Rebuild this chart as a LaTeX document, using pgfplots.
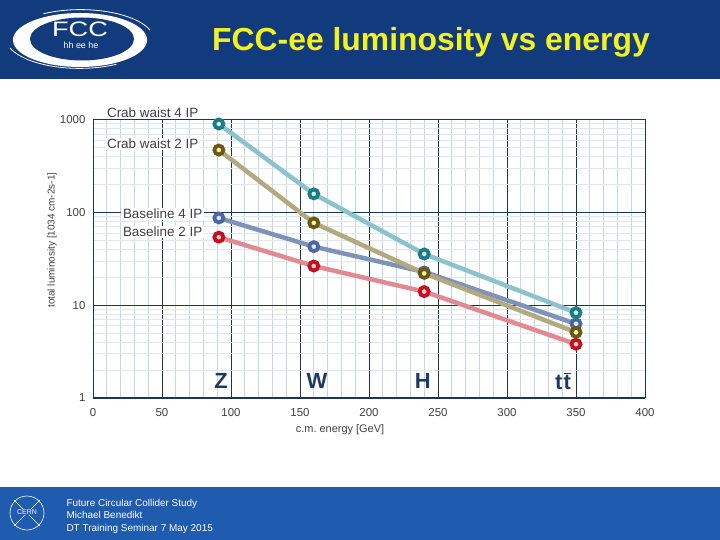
\documentclass[border=0pt]{standalone}
\usepackage{fontspec}
\setmainfont{Liberation Sans}
\usepackage{pgfplots}
\pgfplotsset{compat=1.18}
\definecolor{hdr}{HTML}{123B7D}
\definecolor{ftr}{HTML}{1F5BAE}
\definecolor{ttl}{HTML}{F2F21E}
\definecolor{gmaj}{HTML}{1C3550}
\definecolor{gmin}{HTML}{C6D6E6}
\definecolor{gminy}{HTML}{DFE8F1}
\definecolor{lab}{HTML}{404040}
\definecolor{navy}{HTML}{203864}
\definecolor{cfL}{HTML}{8CC2CB}
\definecolor{cfD}{HTML}{1B7B88}
\definecolor{cfC}{HTML}{D4F3F7}
\definecolor{ctL}{HTML}{B3A97E}
\definecolor{ctD}{HTML}{6B5814}
\definecolor{ctC}{HTML}{FFF7A8}
\definecolor{bfL}{HTML}{7F92BA}
\definecolor{bfD}{HTML}{4D66A3}
\definecolor{bfC}{HTML}{DCEBFA}
\definecolor{btL}{HTML}{E28A92}
\definecolor{btD}{HTML}{C1101E}
\definecolor{btC}{HTML}{FFD0D4}
\begin{document}
\begin{tikzpicture}
\useasboundingbox (0,0) rectangle (720bp,540bp);
\fill[white] (0,0) rectangle (720bp,540bp);
% header
\fill[hdr] (0,461bp) rectangle (720bp,540bp);
\fill[white] (80bp,500bp) ellipse [x radius=67bp, y radius=27bp];
\fill[hdr] (82bp,501bp) ellipse [x radius=52bp, y radius=21.5bp];
\draw[white, line width=0.8bp] (150bp,510bp) arc[start angle=20, end angle=120, x radius=74bp, y radius=31bp];
\draw[white, line width=0.8bp] (10bp,492bp) arc[start angle=200, end angle=300, x radius=74bp, y radius=31bp];
\node[white, font=\fontsize{21}{21}\selectfont, xscale=1.3, inner sep=0pt] at (80bp,510.5bp) {FCC};
\node[white, font=\fontsize{9}{9}\selectfont, inner sep=0pt] at (81bp,494.5bp) {hh ee he};
\node[ttl, font=\fontsize{32}{32}\bfseries\selectfont] at (431bp,498bp) {FCC-ee luminosity vs energy};
% footer
\fill[ftr] (0,0) rectangle (720bp,53bp);
\draw[white, line width=0.6bp] (27bp,27bp) circle (17bp);
\draw[white, line width=0.6bp] (14bp,40bp) -- (40bp,14bp);
\draw[white, line width=0.6bp] (14bp,14bp) -- (40bp,40bp);
\node[white, fill=ftr, inner sep=1bp, font=\fontsize{7}{7}\selectfont] at (27bp,28bp) {CERN};
\node[white, anchor=west, align=left, font=\fontsize{10}{12.5}\selectfont] at (63bp,24bp)
  {Future Circular Collider Study\\Michael Benedikt\\DT Training Seminar 7 May 2015};
% chart
\begin{axis}[
  at={(93bp,142bp)}, anchor=south west,
  scale only axis, width=552bp, height=278.5bp,
  xmin=0, xmax=400, ymin=1, ymax=1000, ymode=log,
  xtick={0,50,...,400}, minor x tick num=4,
  ytick={1,10,100,1000}, yticklabels={1,10,100,1000},
  minor ytick={2,3,4,5,6,7,8,9,20,30,40,50,60,70,80,90,200,300,400,500,600,700,800,900},
  grid=both,
  major grid style={gmaj, line width=0.8bp},
  minor x grid style={gmin, line width=0.7bp},
  minor y grid style={gminy, line width=0.7bp},
  axis line style={gmaj, line width=1bp},
  tick style={draw=none},
  /pgf/number format/assume math mode=true,
  ticklabel style={font=\fontsize{11.5}{13}\selectfont, text=lab},
  xticklabel style={yshift=-7bp},
  yticklabel style={xshift=-4bp},
  xlabel={c.m.\ energy [GeV]},
  xlabel style={at={(rel axis cs:0.4475,-0.115)}, anchor=center, font=\fontsize{11}{13}\selectfont, text=lab},
  ylabel={total luminosity [1034 cm-2s-1]},
  ylabel style={at={(rel axis cs:-0.0743,0.567)}, anchor=center, font=\fontsize{10}{12}\selectfont, text=lab},
  clip=false,
]
\addplot[line width=4.5bp, bfL, mark=*, mark size=4.5bp, mark options={draw=bfD, fill=bfC, line width=3.8bp}]
  coordinates {(91.2,87) (160,42.7) (240,22.8) (350,6.3)};
\addplot[line width=4.5bp, btL, mark=*, mark size=4.5bp, mark options={draw=btD, fill=btC, line width=3.8bp}]
  coordinates {(91.2,54) (160,26.4) (240,14.0) (350,3.8)};
\addplot[line width=4.5bp, ctL, mark=*, mark size=4.5bp, mark options={draw=ctD, fill=ctC, line width=3.8bp}]
  coordinates {(91.2,469) (160,77) (240,22.0) (350,5.1)};
\addplot[line width=4.5bp, cfL, mark=*, mark size=4.5bp, mark options={draw=cfD, fill=cfC, line width=3.8bp}]
  coordinates {(91.2,895) (160,158) (240,35.6) (350,8.3)};
\tikzset{serlab/.style={anchor=east, fill=white, inner sep=1.5bp, text=lab, font=\fontsize{13.5}{15}\selectfont}}
\node[serlab] at (axis cs:77.5,1175) {Crab waist 4 IP};
\node[serlab] at (axis cs:77.5,545) {Crab waist 2 IP};
\node[serlab] at (axis cs:80.4,96) {Baseline 4 IP};
\node[serlab] at (axis cs:80.4,61.4) {Baseline 2 IP};
\tikzset{enlab/.style={text=navy, font=\fontsize{22}{24}\bfseries\selectfont}}
\node[enlab] at (axis cs:92.8,1.52) {Z};
\node[enlab] at (axis cs:162.3,1.52) {W};
\node[enlab] at (axis cs:239,1.52) {H};
\node[enlab] at (axis cs:340.6,1.52) {t\hspace{1bp}$\overline{\hbox{t}}$};
\end{axis}
\end{tikzpicture}
\end{document}
